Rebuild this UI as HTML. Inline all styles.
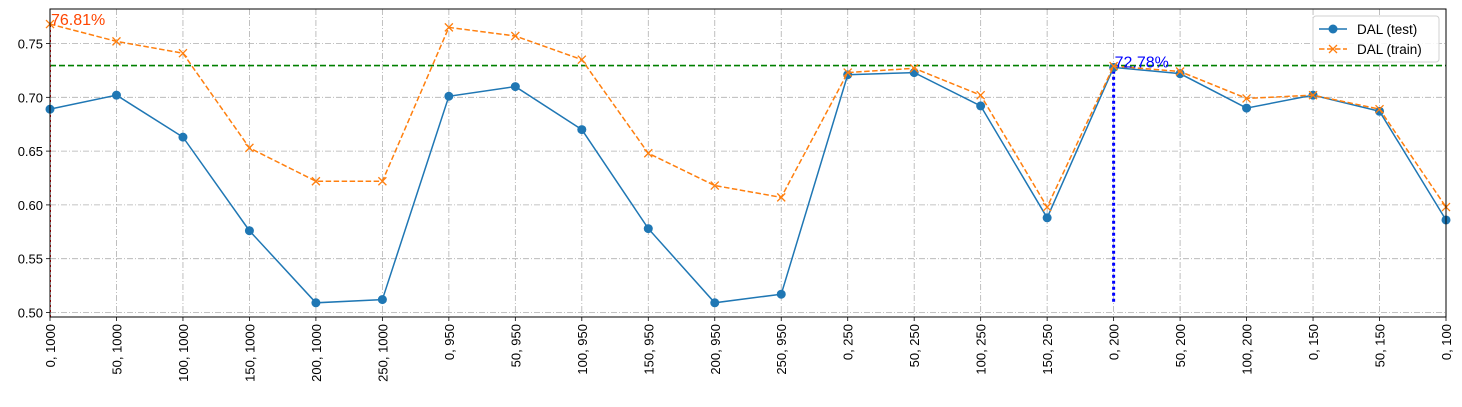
<!DOCTYPE html>
<html><head><meta charset="utf-8"><style>
html,body{margin:0;padding:0;background:#fff;}
svg{display:block;font-family:"Liberation Sans","DejaVu Sans",sans-serif;}
</style></head><body>
<svg id="chart" width="1462" height="407" viewBox="0 0 1462 407" xmlns="http://www.w3.org/2000/svg"></svg>
<script>
const categories=["0, 1000","50, 1000","100, 1000","150, 1000","200, 1000","250, 1000","0, 950","50, 950","100, 950","150, 950","200, 950","250, 950","0, 250","50, 250","100, 250","150, 250","0, 200","50, 200","100, 200","0, 150","50, 150","0, 100"];
const testValues=[0.689,0.702,0.663,0.576,0.509,0.512,0.701,0.710,0.670,0.578,0.509,0.517,0.721,0.723,0.692,0.588,0.7278,0.722,0.690,0.702,0.687,0.586];
const trainValues=[0.7681,0.752,0.741,0.653,0.622,0.622,0.765,0.757,0.735,0.648,0.618,0.607,0.723,0.727,0.702,0.598,0.729,0.724,0.699,0.702,0.689,0.598];
const yTicks=[0.50,0.55,0.60,0.65,0.70,0.75];
const refLine=0.7295;
const bestTrainLabel="76.81%";
const bestTestLabel="72.78%";
const bestTrainIndex=0, bestTestIndex=16;

const NS="http://www.w3.org/2000/svg";
const svg=document.getElementById('chart');
const L=50,R=1446,T=9,B=317,yMin=0.4958,yMax=0.7821;
const x=i=>L+i*(R-L)/(categories.length-1);
const y=v=>B-(v-yMin)/(yMax-yMin)*(B-T);
function el(tag,attrs,parent){const e=document.createElementNS(NS,tag);for(const k in attrs)e.setAttribute(k,attrs[k]);(parent||svg).appendChild(e);return e;}

const grid=el('g',{});


categories.forEach((c,i)=>{
  el('line',{x1:x(i),x2:x(i),y1:T,y2:B,stroke:'#b0b0b0','stroke-width':0.8,'stroke-dasharray':'6,2,1,2'},grid);
  el('line',{x1:x(i),x2:x(i),y1:B,y2:B+4,stroke:'#000','stroke-width':0.8},grid);
  const t=el('text',{x:0,y:0,'font-size':13,'text-anchor':'end',fill:'#000',transform:`translate(${x(i)+5},${B+7}) rotate(-90)`});
  t.textContent=c;
  
  
});
yTicks.forEach(v=>{
  el('line',{x1:L,x2:R,y1:y(v),y2:y(v),stroke:'#b0b0b0','stroke-width':0.8,'stroke-dasharray':'6,2,1,2'},grid);
  el('line',{x1:L-4,x2:L,y1:y(v),y2:y(v),stroke:'#000','stroke-width':0.8},grid);
  const t=el('text',{x:L-7,y:y(v)+5,'font-size':13,'text-anchor':'end',fill:'#000'});
  t.textContent=v.toFixed(2);
  
  
});

const ref=el('line',{x1:L,x2:R,y1:y(refLine),y2:y(refLine),stroke:'#008000','stroke-width':1.6,'stroke-dasharray':'6,3'});



const vr=el('line',{x1:x(bestTrainIndex)+0.5,x2:x(bestTrainIndex)+0.5,y1:B,y2:y(trainValues[bestTrainIndex]),stroke:'#ff0000','stroke-width':1,'stroke-dasharray':'2,3'});


const vb=el('line',{x1:x(bestTestIndex),x2:x(bestTestIndex),y1:y(0.51),y2:y(testValues[bestTestIndex]),stroke:'#0000ff','stroke-width':3,'stroke-dasharray':'3,3'});



const tp=el('polyline',{points:testValues.map((v,i)=>x(i)+','+y(v)).join(' '),fill:'none',stroke:'#1f77b4','stroke-width':1.5});


testValues.forEach((v,i)=>{
  const c=el('circle',{cx:x(i),cy:y(v),r:4.5,fill:'#1f77b4'});
  
  
});
const rp=el('polyline',{points:trainValues.map((v,i)=>x(i)+','+y(v)).join(' '),fill:'none',stroke:'#ff7f0e','stroke-width':1.5,'stroke-dasharray':'5.5,2.5'});


trainValues.forEach((v,i)=>{
  const g=el('path',{d:`M${x(i)-4},${y(v)-4}L${x(i)+4},${y(v)+4}M${x(i)-4},${y(v)+4}L${x(i)+4},${y(v)-4}`,stroke:'#ff7f0e','stroke-width':1.3});
  
  
});

const a1=el('text',{x:x(bestTrainIndex)+1,y:y(trainValues[bestTrainIndex])+1,'font-size':16,fill:'#ff4500'});
a1.textContent=bestTrainLabel;


const a2=el('text',{x:x(bestTestIndex)+1,y:y(testValues[bestTestIndex])+0,'font-size':16,fill:'#0000ff'});
a2.textContent=bestTestLabel;



const frame=el('rect',{x:L,y:T,width:R-L,height:B-T,fill:'none',stroke:'#000','stroke-width':1});



const lg=el('g',{});


el('rect',{x:1313,y:16,width:126,height:46,rx:3,fill:'#fff','fill-opacity':0.85,stroke:'#d0d0d0'},lg);
el('line',{x1:1319,x2:1347,y1:29,y2:29,stroke:'#1f77b4','stroke-width':1.5},lg);
el('circle',{cx:1333,cy:29,r:4.5,fill:'#1f77b4'},lg);
const l1=el('text',{x:1357,y:34,'font-size':13.5,fill:'#000'},lg);l1.textContent='DAL (test)';


el('line',{x1:1319,x2:1347,y1:49,y2:49,stroke:'#ff7f0e','stroke-width':1.5,'stroke-dasharray':'5.5,2.5'},lg);
el('path',{d:'M1329,45L1337,53M1329,53L1337,45',stroke:'#ff7f0e','stroke-width':1.3},lg);
const l2=el('text',{x:1357,y:54,'font-size':13.5,fill:'#000'},lg);l2.textContent='DAL (train)';


</script>
</body></html>
